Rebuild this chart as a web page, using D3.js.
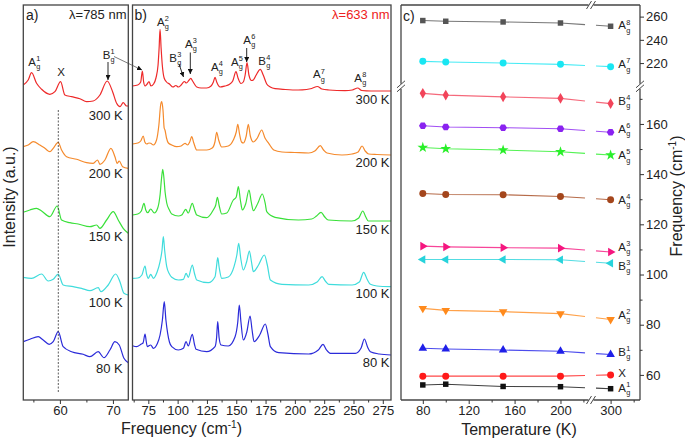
<!DOCTYPE html>
<html><head><meta charset="utf-8">
<script src="https://cdn.jsdelivr.net/npm/d3@7"></script>
<style>
body{margin:0;background:#fff}
svg{display:block}
text{font-family:"Liberation Sans",Arial,Helvetica,sans-serif;fill:#222}
</style>
</head><body>
<svg id="chart" width="685" height="440"></svg>
<script>
// ---------------- DATA ----------------
const tempLabels = ["300 K", "200 K", "150 K", "100 K", "80 K"];
const spectraColors = ["#ee2a2a", "#f58a2c", "#3ae03a", "#3fdcdc", "#2b2bd9"];

// panel a (λ = 785 nm): [frequency cm-1, intensity a.u. incl. offset]
const specA300 = [[53.08,315],[54.02,320],[54.66,327.3],[55.6,316.7],[56.55,310.7],[58.11,305.7],[59.06,308.3],[60.13,318.3],[60.94,305],[62.21,303.3],[63.77,301.3],[65.04,298.3],[66.28,299],[67.55,305],[68.92,319],[69.94,308.3],[70.7,296.7],[71.32,293.3],[71.94,297.3],[72.58,294],[72.89,294]];
const specA200 = [[53.08,253.3],[54.02,255],[54.96,258.3],[56.23,255],[57.17,251.7],[58.11,248.3],[58.74,251.7],[59.68,257.7],[60.32,250],[61.26,243.3],[63.15,240.7],[65.04,237.3],[66.28,236.7],[67.11,240],[67.55,235.7],[68.49,240],[69.62,251.7],[70.38,243.3],[70.81,236.7],[71.19,239],[71.83,233.3],[72.89,231.7]];
const specA150 = [[53.08,187.7],[54.34,190],[55.6,191.7],[56.55,189],[58.11,183.3],[59.49,194],[60.32,180],[61.89,177.3],[63.45,176],[65.66,173.3],[66.92,175],[67.55,171.7],[68.81,180],[70.06,188.3],[71.0,180],[71.94,171.7],[72.89,166.7]];
const specA100 = [[53.08,122.7],[54.66,121.7],[56.55,126],[57.79,119],[58.74,120.7],[59.68,126],[60.62,115],[62.51,113.3],[64.09,111.7],[65.66,109.3],[67.23,112.3],[67.74,108.3],[69.11,115],[70.51,126],[71.32,118.3],[72.08,106.7],[72.89,105]];
const specA80 = [[53.08,58.3],[54.34,60.7],[55.91,63.3],[56.85,60],[57.98,55.7],[58.74,58.3],[59.68,68.3],[60.62,53.3],[62.21,48.3],[64.4,45.7],[65.66,43.3],[67.23,48.3],[68.3,42.3],[69.43,50],[70.38,58.3],[71.19,55],[72.08,41.7],[72.89,37.3]];

// panel b (λ = 633 nm)
const specB300 = [[61.5,314],[66,315],[68.5,318],[69.9,329],[71,318],[72.2,314],[74,316],[75.6,318.5],[77.2,314],[79.5,316],[81.5,322],[83.3,335],[84.2,352],[85,370.7],[85.9,352],[86.9,335],[88.5,322],[90.5,318],[93,316],[96,313],[98.5,314.5],[100.6,313],[103,315],[105.7,318.5],[107.5,317],[109.5,319.5],[111.2,321.7],[113,318.5],[116.3,313],[120,312],[124.8,312],[128.5,314],[130.5,318],[131.9,322.7],[133.3,318],[136.2,313],[140.4,314],[144,315.5],[147,319],[149.8,328.3],[151.5,322],[154,316.5],[156,318],[157.6,325],[159.2,337.3],[160.8,325],[163,319.5],[164.6,320],[167,325],[170.5,330.7],[173,325],[176,316],[179,313],[183.1,311.3],[192,310.5],[202.7,310],[210,310.5],[214.4,311.5],[219.2,313.5],[223,311],[229,310],[242.8,309.3],[249,310],[253.6,312],[257,309.5],[265,309],[282,309]];
const specB200 = [[61.5,256],[66,257],[68.5,259],[70.7,264],[72,258],[73.6,256],[75.5,257],[77,256.7],[79.3,255],[82,260],[84,275],[85.5,295],[86.4,298.3],[87.5,290],[88.5,272],[89.2,270],[90.5,262],[92.1,257],[95,255],[99.2,253.3],[103,254],[106.3,256.7],[108.5,255],[110.3,258],[112,263.3],[113.8,257],[116.3,250],[124.8,250],[129.5,252],[131.8,258],[133.3,267.7],[135,260],[137.6,253],[143.2,254],[147.5,260],[150,268],[151.3,275.7],[152.8,266],[154.5,258],[156,257],[158.5,264],[160.3,275.7],[162,264],[164.6,258],[168,262],[171.7,270],[174.5,262],[177.7,256.7],[182,250],[189,248],[200,247.5],[211.8,247],[217,249],[221.7,254.3],[224.5,250],[227.4,247],[240.2,245],[248.8,246],[254,248],[257.3,254],[260,249],[263,246],[270,245.5],[282,245]];
const specB150 = [[61.5,185],[66,186],[69,189],[71.3,196.7],[72.8,190],[74.5,187.3],[77,191],[80.1,187],[83,192],[85,205],[86.3,222],[87.3,230.7],[88.3,222],[89.3,208],[90.7,197],[93,190],[95,186],[100.6,184],[103.5,185],[106.9,190.7],[109.1,187],[112.5,196.7],[114.5,190],[116.3,185],[124.8,182.3],[130.4,190],[132.5,195],[133.9,202.7],[135.5,194],[137.6,186],[141.9,187],[147.5,200],[150,203],[151.8,213.3],[153.5,200],[155.2,190],[158,196],[160.9,210],[162.8,198],[164.6,189.3],[168.5,197],[172.2,206],[174.8,196],[176,188.3],[183.1,182.7],[203,180],[214.4,181],[218.5,184],[222.3,187.7],[225.5,183],[228.5,180],[248.5,179],[254.5,182],[257.9,189],[260.5,183],[262.7,179],[282,179]];
const specB100 = [[61.5,121.7],[66,122],[69.5,125],[72.2,134],[73.5,126],[75,121.7],[77,125.7],[79.3,121.7],[82.5,128],[85,138.3],[86.7,150],[87.8,163.3],[88.9,150],[90.7,133.3],[93,126],[95,122.7],[100.6,120],[104.9,120.7],[107.2,126.7],[109.1,122.7],[112.5,135],[114.5,126],[116.3,120],[126.2,117.3],[131.9,123.3],[133,132],[134.2,142.3],[135.5,132],[137.6,121.7],[143.2,123],[148.1,133.3],[150.5,145],[152.1,156.7],[153.8,142],[156,130],[158.8,138],[161.2,149],[163,138],[164.6,128.3],[169,135],[174,145],[176.5,135],[179.1,120],[189,115.7],[211.8,115],[219,118],[223.2,123.3],[226,119],[228.9,115.7],[248.8,115],[255,118],[258.7,127.7],[261.5,121],[264.4,115.7],[270,114],[282,113.3]];
const specB80 = [[61.5,54.3],[65.1,53.3],[69,56],[70.5,57],[72.2,66],[73.3,58],[74.1,53.3],[77,55],[79.3,51.7],[82.5,56],[85,65],[87,80],[88.6,98.3],[90,80],[91.5,66.7],[93,58],[95,53.3],[100.6,50],[104.9,51.7],[107.2,58.3],[109.1,54],[112.5,65.7],[114.3,56],[115.7,50.7],[124.8,48.3],[131.9,53.3],[133.2,62],[134.2,78.3],[135.4,62],[137,55],[143.2,54],[149,63.3],[151.3,78],[152.6,95],[154,78],[156,60],[159,68],[161.8,84],[163.5,70],[165.2,58.3],[170,65],[174.8,76],[177,66],[179.1,53.3],[186.2,47.3],[211.8,46],[220,50],[224,55.7],[227,50],[230.3,46.7],[251.6,46.7],[256.5,52],[259.3,61],[262,53],[264.4,48.3],[272,46],[282,45]];

const dashedFreq = 59.7;          // dashed guide in panel a
const dashedRange = [7, 290];     // intensity span of the guide

// panel c : peak frequency vs temperature
const temps = [80, 100, 150, 200, 300];
const freqAg1 = [56.0, 56.3, 55.4, 55.3, 54.5];
const freqX   = [59.5, 59.5, 59.5, 59.5, 60.0];
const freqBg1 = [70.6, 70.3, 69.9, 69.4, 68.1];
const freqAg2 = [86.5, 85.7, 85.2, 84.4, 82.1];
const freqBg3 = [106.0, 106.0, 106.0, 105.9, 104.5];
const freqAg3 = [111.3, 111.0, 110.7, 110.5, 109.0];
const freqAg4 = [132.3, 131.9, 131.8, 131.1, 129.8];
const freqAg5 = [150.6, 150.1, 149.6, 148.9, 147.6];
const freqAg6 = [159.3, 158.8, 158.5, 158.1, 156.7];
const freqBg4 = [172.2, 171.5, 170.8, 170.2, 168.1];
const freqAg7 = [221.5, 220.9, 220.0, 218.9, 216.9];
const freqAg8 = [256.6, 256.0, 255.4, 254.5, 251.7];

const xTicksA = [60, 70], xMinorA = [55, 65];
const xTicksB = [75, 100, 125, 150, 175, 200, 225, 250, 275];
const xMinorB = [62.5, 87.5, 112.5, 137.5, 162.5, 187.5, 212.5, 237.5, 262.5];
const xTicksC = [80, 120, 160, 200], xMinorC = [100, 140, 180, 220];
const xTicksC2 = [300], xMinorC2 = [320];
const yTicksC = [60, 80, 100, 120, 140, 160], yMinorC = [70, 90, 110, 130, 150, 170];
const yTicksC2 = [220, 240, 260];

// ---------------- DRAW ----------------
const svg = d3.select("#chart");
const defs = svg.append("defs");
defs.append("marker").attr("id","arr").attr("viewBox","0 0 10 10").attr("refX",10).attr("refY",5)
  .attr("markerWidth",5).attr("markerHeight",5).attr("orient","auto-start-reverse")
  .attr("markerUnits","userSpaceOnUse")
  .append("path").attr("d","M0,0 L10,5 L0,10 z").attr("fill","#111");

const TOP = 5, BOT = 400;
const yI = d3.scaleLinear().domain([0, 395]).range([BOT, TOP]);
const xA = d3.scaleLinear().domain([53.1, 72.9]).range([23.3, 128.3]);
const xB = d3.scaleLinear().domain([61.5, 282]).range([132.5, 391]);

function clip(id, x0, x1) {
  defs.append("clipPath").attr("id", id).append("rect").attr("x", x0).attr("y", TOP).attr("width", x1 - x0).attr("height", BOT - TOP);
}
clip("clipA", xA.range()[0], xA.range()[1]);
clip("clipB", xB.range()[0], xB.range()[1]);

function modeLabel(g, x, y, base, sup, sub, size, color) {
  const t = g.append("text").attr("x", x).attr("y", y).style("font-size", size + "px").text(base);
  if (color) t.style("fill", color);
  const w = t.node().getComputedTextLength();
  const s = size * 0.64;
  if (sup) g.append("text").attr("x", x + w + 0.2).attr("y", y - size * 0.4).style("font-size", s + "px").text(sup);
  if (sub) g.append("text").attr("x", x + w + 0.2).attr("y", y + size * 0.3).style("font-size", s + "px").text(sub);
}

function bottomAxis(scale, major, minor, fmt) {
  const g = svg.append("g").attr("transform", `translate(0,${BOT})`);
  g.call(d3.axisBottom(scale).tickValues(major).tickSize(4).tickSizeOuter(0).tickFormat(fmt || d3.format("d")));
  g.append("g").call(d3.axisBottom(scale).tickValues(minor).tickSize(2.5).tickFormat(""));
  g.selectAll(".domain").remove();
  g.selectAll("line").attr("stroke", "#333");
  g.selectAll("text").style("font-size", "13px").attr("fill", "#222").attr("dy", "0.72em").attr("y", 6);
  return g;
}

function spectraPanel(xs, specs, clipId, labelX, labelY) {
  const line = d3.line().x(d => xs(d[0])).y(d => yI(d[1])).curve(d3.curveMonotoneX);
  const g = svg.append("g").attr("clip-path", `url(#${clipId})`);
  specs.forEach((s, i) => {
    g.append("path").datum(s).attr("d", line).attr("fill", "none")
      .attr("stroke", spectraColors[i]).attr("stroke-width", 1.2);
  });
  tempLabels.forEach((t, i) => {
    svg.append("text").attr("x", labelX).attr("y", labelY[i]).attr("text-anchor", "end")
      .style("font-size", "13px").text(t);
  });
}

// ---- panel a
spectraPanel(xA, [specA300, specA200, specA150, specA100, specA80], "clipA", 122.7, [120, 178, 241, 307, 373]);
svg.append("line").attr("x1", xA(dashedFreq)).attr("x2", xA(dashedFreq))
  .attr("y1", yI(dashedRange[1])).attr("y2", yI(dashedRange[0]))
  .attr("stroke", "#333").attr("stroke-width", 0.8).attr("stroke-dasharray", "2,1.5");
svg.append("rect").attr("x", 23.3).attr("y", TOP).attr("width", 105).attr("height", BOT - TOP)
  .attr("fill", "none").attr("stroke", "#444").attr("stroke-width", 1.3);
bottomAxis(xA, xTicksA, xMinorA);
svg.append("text").attr("x", 26).attr("y", 19.5).style("font-size", "14px").text("a)");
svg.append("text").attr("x", 126.5).attr("y", 18.5).attr("text-anchor", "end").style("font-size", "13px").text("λ=785 nm");
const gLa = svg.append("g");
modeLabel(gLa, 28.3, 65.7, "A", "1", "g", 11.5);
gLa.append("text").attr("x", 61.2).attr("y", 76).attr("text-anchor", "middle").style("font-size", "11.5px").text("X");
modeLabel(gLa, 102.7, 59, "B", "1", "g", 11.5);
svg.append("line").attr("x1", 108).attr("y1", 62).attr("x2", 108).attr("y2", 80)
  .attr("stroke", "#111").attr("stroke-width", 0.9).attr("marker-end", "url(#arr)");
svg.append("line").attr("x1", 114).attr("y1", 56.5).attr("x2", xB(69.6)).attr("y2", yI(329) - 1)
  .attr("stroke", "#444").attr("stroke-width", 0.7).attr("marker-end", "url(#arr)");

// ---- panel b
spectraPanel(xB, [specB300, specB200, specB150, specB100, specB80], "clipB", 389.5, [104, 167, 234, 298, 367]);
svg.append("rect").attr("x", 132.5).attr("y", TOP).attr("width", 258.5).attr("height", BOT - TOP)
  .attr("fill", "none").attr("stroke", "#444").attr("stroke-width", 1.3);
bottomAxis(xB, xTicksB, xMinorB);
svg.append("text").attr("x", 134.5).attr("y", 19.5).style("font-size", "14px").text("b)");
svg.append("text").attr("x", 389.5).attr("y", 18.5).attr("text-anchor", "end").style("font-size", "13px").style("fill", "#ee2020").text("λ=633 nm");
const gLb = svg.append("g");
const bLabels = [
  ["A","2",157,25.5],["B","3",169.3,62],["A","3",185,47.5],["A","4",211,70.7],["A","5",231,65.7],
  ["A","6",243.3,43.7],["B","4",258.3,65],["A","7",313,78.3],["A","8",354.3,81.7]
];
bLabels.forEach(l => modeLabel(gLb, l[2], l[3], l[0], l[1], "g", 11.5));
svg.append("line").attr("x1", 179).attr("y1", 64).attr("x2", 183.5).attr("y2", 77)
  .attr("stroke", "#111").attr("stroke-width", 0.9).attr("marker-end", "url(#arr)");
svg.append("line").attr("x1", 190.3).attr("y1", 52.5).attr("x2", 190.3).attr("y2", 74)
  .attr("stroke", "#111").attr("stroke-width", 0.9).attr("marker-end", "url(#arr)");
svg.append("line").attr("x1", 246.7).attr("y1", 48).attr("x2", 246.7).attr("y2", 62)
  .attr("stroke", "#111").attr("stroke-width", 0.9).attr("marker-end", "url(#arr)");

// shared axis titles for a/b
svg.append("text").attr("transform", "translate(14.5,197) rotate(-90)").attr("text-anchor", "middle")
  .style("font-size", "16px").text("Intensity (a.u.)");
const ft = svg.append("text").attr("x", 181.5).attr("y", 434).attr("text-anchor", "middle").style("font-size", "16px");
ft.append("tspan").text("Frequency (cm");
ft.append("tspan").attr("dy", -6).style("font-size", "10px").text("-1");
ft.append("tspan").attr("dy", 6).text(")");

// ---- panel c
const CL = 401, CR = 640, XBRK = 591, YBRK = 86.3;
const xC1 = d3.scaleLinear().domain([61, 226.6]).range([CL, XBRK]);
const xC2 = d3.scaleLinear().domain([283, 325.5]).range([XBRK, CR]);
const xC = t => t < 250 ? xC1(t) : xC2(t);
const yC1 = d3.scaleLinear().domain([50, 175]).range([BOT, YBRK]);
const yC2 = d3.scaleLinear().domain([200, 270]).range([YBRK, TOP]);
const yC = v => v < 190 ? yC1(v) : yC2(v);

const hexagon = { draw(ctx, size) { const r = Math.sqrt(size / 2.598); for (let i = 0; i < 6; i++) { const a = Math.PI / 3 * i; i ? ctx.lineTo(r * Math.cos(a), r * Math.sin(a)) : ctx.moveTo(r, 0); } ctx.closePath(); } };
const series = [
  { b: "A", sup: "1", v: freqAg1, c: "#111111", sym: d3.symbolSquare, rot: 0, s: 30, dy: 3.3 },
  { b: "X", sup: "", v: freqX, c: "#ff1a1a", sym: d3.symbolCircle, rot: 0, s: 38, dy: 2 },
  { b: "B", sup: "1", v: freqBg1, c: "#1f1fe8", sym: d3.symbolTriangle, rot: 0, s: 32, dy: 1.4 },
  { b: "A", sup: "2", v: freqAg2, c: "#ff8a1c", sym: d3.symbolTriangle, rot: 180, s: 32, dy: -0.4 },
  { b: "B", sup: "3", v: freqBg3, c: "#27d3db", sym: d3.symbolTriangle, rot: -90, s: 32, dy: 6.8 },
  { b: "A", sup: "3", v: freqAg3, c: "#f5167f", sym: d3.symbolTriangle, rot: 90, s: 32, dy: -0.9 },
  { b: "A", sup: "4", v: freqAg4, c: "#a4461c", sym: d3.symbolCircle, rot: 0, s: 38, dy: 4.3 },
  { b: "A", sup: "5", v: freqAg5, c: "#29ef29", sym: d3.symbolStar, rot: 0, s: 36, dy: 4 },
  { b: "A", sup: "6", v: freqAg6, c: "#8a22f0", sym: hexagon, rot: 0, s: 38, dy: 0.8 },
  { b: "B", sup: "4", v: freqBg4, c: "#f2445a", sym: d3.symbolDiamond, rot: 0, s: 34, dy: 1.4 },
  { b: "A", sup: "7", v: freqAg7, c: "#19e6f2", sym: d3.symbolCircle, rot: 0, s: 38, dy: 1.4 },
  { b: "A", sup: "8", v: freqAg8, c: "#555555", sym: d3.symbolSquare, rot: 0, s: 30, dy: 3 }
];
const gC = svg.append("g");
series.forEach(s => {
  const pts = temps.map((t, i) => [xC(t), yC(s.v[i])]);
  const ln = d3.line();
  gC.append("path").attr("d", ln(pts.slice(0, 4))).attr("fill", "none").attr("stroke", s.c).attr("stroke-width", 1.1).attr("opacity", 0.8);
  const p3 = pts[3], p4 = pts[4];
  const at = x => [x, p3[1] + (p4[1] - p3[1]) * (x - p3[0]) / (p4[0] - p3[0])];
  gC.append("path").attr("d", ln([p3, at(XBRK - 6)])).attr("fill", "none").attr("stroke", s.c).attr("stroke-width", 1.1).attr("opacity", 0.8);
  gC.append("path").attr("d", ln([at(XBRK + 5), p4])).attr("fill", "none").attr("stroke", s.c).attr("stroke-width", 1.1).attr("opacity", 0.8);
  pts.forEach(p => {
    gC.append("path").attr("d", d3.symbol(s.sym, s.s)()).attr("fill", s.c)
      .attr("transform", `translate(${p[0]},${p[1]}) rotate(${s.rot})`);
  });
  const ly = yC(s.v[4]) + s.dy;
  if (s.sup) modeLabel(gC, 618.3, ly, s.b, s.sup, "g", 11.5);
  else gC.append("text").attr("x", 618.3).attr("y", ly).style("font-size", "11.5px").text(s.b);
});

// frame of c
const fr = svg.append("g").attr("stroke", "#444").attr("stroke-width", 1.3).attr("fill", "none");
fr.append("line").attr("x1", CL).attr("x2", CR).attr("y1", TOP).attr("y2", TOP);
fr.append("line").attr("x1", CL).attr("x2", CR).attr("y1", BOT).attr("y2", BOT);
fr.append("line").attr("x1", CL).attr("x2", CL).attr("y1", TOP).attr("y2", BOT);
fr.append("line").attr("x1", CR).attr("x2", CR).attr("y1", TOP).attr("y2", BOT);
// axis breaks
function hBreak(x, y) {
  svg.append("rect").attr("x", x - 2.5).attr("y", y - 3).attr("width", 5).attr("height", 6).attr("fill", "#fff");
  [-2, 2].forEach(o => svg.append("line").attr("x1", x + o - 2.5).attr("y1", y + 4).attr("x2", x + o + 2.5).attr("y2", y - 4)
    .attr("stroke", "#333").attr("stroke-width", 0.9));
}
function vBreak(x, y) {
  svg.append("rect").attr("x", x - 3).attr("y", y - 2.5).attr("width", 6).attr("height", 5).attr("fill", "#fff");
  [-2, 2].forEach(o => svg.append("line").attr("x1", x - 4).attr("y1", y + o + 3.5).attr("x2", x + 4).attr("y2", y + o - 3.5)
    .attr("stroke", "#333").attr("stroke-width", 0.9));
}
hBreak(XBRK, TOP); hBreak(XBRK, BOT); vBreak(CL, YBRK); vBreak(CR, YBRK);

bottomAxis(xC1, xTicksC, xMinorC);
bottomAxis(xC2, xTicksC2, xMinorC2);
function rightAxis(scale, major, minor) {
  const g = svg.append("g").attr("transform", `translate(${CR},0)`);
  g.call(d3.axisRight(scale).tickValues(major).tickSize(4).tickSizeOuter(0).tickFormat(d3.format("d")));
  if (minor) g.append("g").call(d3.axisRight(scale).tickValues(minor).tickSize(2.5).tickFormat(""));
  g.selectAll(".domain").remove();
  g.selectAll("line").attr("stroke", "#333");
  g.selectAll("text").style("font-size", "13px").attr("fill", "#222").attr("x", 6);
}
rightAxis(yC1, yTicksC, yMinorC);
rightAxis(yC2, yTicksC2, null);

svg.append("text").attr("x", 403).attr("y", 20.5).style("font-size", "14px").text("c)");
svg.append("text").attr("x", 519).attr("y", 435).attr("text-anchor", "middle").style("font-size", "16px").text("Temperature (K)");
const fy = svg.append("text").attr("transform", "translate(681.5,196) rotate(-90)").attr("text-anchor", "middle").style("font-size", "16px");
fy.append("tspan").text("Frequency (cm");
fy.append("tspan").attr("dy", -6).style("font-size", "10px").text("-1");
fy.append("tspan").attr("dy", 6).text(")");
</script>
</body></html>
